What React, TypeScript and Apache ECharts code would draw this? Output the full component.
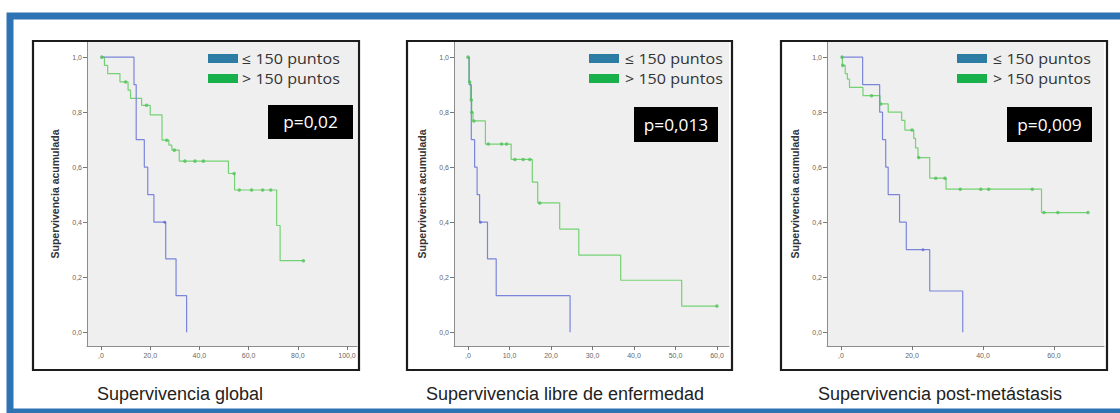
import React, { useEffect, useRef } from "react";
import * as echarts from "echarts";

// ---------- text ----------
const panelTitles = [
  "Supervivencia global",
  "Supervivencia libre de enfermedad",
  "Supervivencia post-metástasis",
];
const pValues = ["p=0,02", "p=0,013", "p=0,009"];
const legendLabels = ["≤ 150 puntos", "> 150 puntos"];
const yAxisTitle = "Supervivencia acumulada";

// ---------- tick values ----------
const yTicks = [0, 0.2, 0.4, 0.6, 0.8, 1.0];
const xTicks1 = [0, 20, 40, 60, 80, 100];
const xTicks2 = [0, 10, 20, 30, 40, 50, 60];
const xTicks3 = [0, 20, 40, 60];

// ---------- Panel 1: Supervivencia global ----------
const p1LowTime = [0, 13.4, 14.3, 17.6, 19.0, 21.5, 26.3, 30.5, 34.8];
const p1LowSurv = [1, 0.9, 0.7, 0.6, 0.5, 0.4, 0.267, 0.133, 0];
const p1LowCensTime = [25.9];
const p1LowCensSurv = [0.4];

const p1HighTime = [0, 1.4, 2.7, 7.7, 11.0, 12.0, 16.5, 20.0, 24.8, 27.6, 28.8, 31.8, 51.8, 54.3, 71.4, 72.8, 82.3];
const p1HighSurv = [1, 0.97, 0.94, 0.91, 0.88, 0.85, 0.825, 0.79, 0.698, 0.68, 0.662, 0.622, 0.577, 0.517, 0.388, 0.26, 0.26];
const p1HighCensTime = [0.3, 10.0, 18.5, 26.7, 29.8, 34.1, 38.2, 41.6, 54.1, 56.2, 61.2, 65.7, 69.0, 82.3];
const p1HighCensSurv = [1, 0.91, 0.825, 0.698, 0.662, 0.622, 0.622, 0.622, 0.577, 0.517, 0.517, 0.517, 0.517, 0.26];

// ---------- Panel 2: Supervivencia libre de enfermedad ----------
const p2LowTime = [0, 0.3, 0.8, 1.6, 2.2, 2.8, 4.7, 6.8, 24.6];
const p2LowSurv = [1, 0.9, 0.7, 0.6, 0.5, 0.4, 0.267, 0.133, 0];
const p2LowCensTime = [3.0];
const p2LowCensSurv = [0.4];

const p2HighTime = [0, 0.2, 0.6, 0.9, 1.2, 4.2, 10.4, 15.5, 16.8, 22.1, 26.7, 36.8, 51.5, 60];
const p2HighSurv = [1, 0.91, 0.844, 0.8, 0.768, 0.684, 0.628, 0.546, 0.47, 0.375, 0.28, 0.189, 0.095, 0.095];
const p2HighCensTime = [0, 0.4, 0.8, 0.9, 1.4, 4.9, 8.1, 9.3, 11.3, 13.3, 14.9, 17.3, 60];
const p2HighCensSurv = [1, 0.91, 0.844, 0.8, 0.768, 0.684, 0.684, 0.684, 0.628, 0.628, 0.628, 0.47, 0.095];

// ---------- Panel 3: Supervivencia post-metástasis ----------
const p3LowTime = [0, 6.1, 10.9, 11.7, 12.6, 13.3, 16.5, 18.4, 25.0, 34.3];
const p3LowSurv = [1, 0.9, 0.8, 0.7, 0.6, 0.5, 0.4, 0.3, 0.15, 0];
const p3LowCensTime = [23.1];
const p3LowCensSurv = [0.3];

const p3HighTime = [0, 0.4, 1.2, 1.8, 2.4, 6.2, 11.0, 13.3, 17.1, 18.0, 20.5, 21.0, 21.7, 25.0, 29.6, 56.5, 69.6];
const p3HighSurv = [1, 0.97, 0.94, 0.92, 0.89, 0.86, 0.83, 0.8, 0.77, 0.735, 0.705, 0.67, 0.635, 0.56, 0.52, 0.435, 0.435];
const p3HighCensTime = [0.3, 0.5, 8.6, 11.2, 20.0, 21.9, 26.7, 29.3, 33.6, 39.4, 41.6, 53.9, 57.2, 61.1, 69.6];
const p3HighCensSurv = [1, 0.97, 0.86, 0.83, 0.735, 0.635, 0.56, 0.56, 0.52, 0.52, 0.52, 0.52, 0.435, 0.435, 0.435];

// ---------- colours ----------
const lowLineColor = "#7b86da";
const highLineColor = "#74d274";
const lowCensColor = "#5f6cd0";
const highCensColor = "#52c25a";
const lowSwatch = "#2d7ca3";
const highSwatch = "#17b04b";

const zip = (a: number[], b: number[]) => a.map((v, i) => [v, b[i]]);

const panels = [
  {
    lowT: p1LowTime, lowS: p1LowSurv, lowCT: p1LowCensTime, lowCS: p1LowCensSurv,
    highT: p1HighTime, highS: p1HighSurv, highCT: p1HighCensTime, highCS: p1HighCensSurv,
    xTicks: xTicks1,
  },
  {
    lowT: p2LowTime, lowS: p2LowSurv, lowCT: p2LowCensTime, lowCS: p2LowCensSurv,
    highT: p2HighTime, highS: p2HighSurv, highCT: p2HighCensTime, highCS: p2HighCensSurv,
    xTicks: xTicks2,
  },
  {
    lowT: p3LowTime, lowS: p3LowSurv, lowCT: p3LowCensTime, lowCS: p3LowCensSurv,
    highT: p3HighTime, highS: p3HighSurv, highCT: p3HighCensTime, highCS: p3HighCensSurv,
    xTicks: xTicks3,
  },
];

// ---------- layout (positions only) ----------
const layout = [
  { boxL: 33, boxR: 359, gridL: 87, gridW: 270, xMin: -5.7, xMax: 104.06, leg: [208, 242], pBox: [268, 105, 85, 34], titleX: 180 },
  { boxL: 407, boxR: 732, gridL: 454, gridW: 275, xMin: -3.37, xMax: 62.9, leg: [589, 625], pBox: [634, 107, 84, 35], titleX: 565 },
  { boxL: 781, boxR: 1107, gridL: 827, gridW: 277, xMin: -3.94, xMax: 74.1, leg: [957, 993], pBox: [1007, 107, 85, 35], titleX: 940 },
];
const gridTop = 42;
const gridH = 304;
const boxTop = 41;
const boxBottom = 370;

const fmt = (v: number) => (v === 0 ? ",0" : v.toFixed(1).replace(".", ","));
const fmtY = (v: number) => v.toFixed(1).replace(".", ",");

export default function App() {
  const ref = useRef<HTMLDivElement>(null);

  useEffect(() => {
    if (!ref.current) return;
    const chart = echarts.init(ref.current, undefined, { renderer: "svg" });

    const grid = layout.map((l) => ({
      left: l.gridL,
      top: gridTop,
      width: l.gridW,
      height: gridH,
      show: true,
      backgroundColor: "#efefef",
      borderWidth: 0,
    }));

    const xAxis = layout.map((l, i) => ({
      gridIndex: i,
      type: "value",
      min: l.xMin,
      max: l.xMax,
      axisLine: { show: true, onZero: false, lineStyle: { color: "#8c8c8c", width: 1 } },
      axisTick: { show: true, customValues: panels[i].xTicks, length: 4, lineStyle: { color: "#777" } },
      axisLabel: {
        customValues: panels[i].xTicks,
        formatter: fmt,
        fontSize: 7,
        color: "#666",
        margin: 6,
        fontFamily: "Liberation Sans, Arial, sans-serif",
      },
      splitLine: { show: false },
    }));

    const yAxis = layout.map((l, i) => ({
      gridIndex: i,
      type: "value",
      min: -0.05,
      max: 1.055,
      name: yAxisTitle,
      nameLocation: "middle",
      nameRotate: 90,
      nameGap: 27,
      nameTextStyle: {
        fontSize: 10.5,
        fontWeight: "bold",
        color: "#333",
        fontFamily: "Liberation Sans, Arial, sans-serif",
      },
      axisLine: { show: true, onZero: false, lineStyle: { color: "#8c8c8c", width: 1 } },
      axisTick: { show: true, customValues: yTicks, length: 4, lineStyle: { color: "#777" } },
      axisLabel: {
        customValues: yTicks,
        formatter: fmtY,
        fontSize: 7,
        color: "#666",
        margin: 5,
        fontFamily: "Liberation Sans, Arial, sans-serif",
      },
      splitLine: { show: false },
    }));

    const series: any[] = [];
    panels.forEach((p, i) => {
      series.push({
        type: "line",
        xAxisIndex: i,
        yAxisIndex: i,
        step: "end",
        showSymbol: false,
        silent: true,
        data: zip(p.lowT, p.lowS),
        lineStyle: { color: lowLineColor, width: 1.2 },
        z: 3,
      });
      series.push({
        type: "line",
        xAxisIndex: i,
        yAxisIndex: i,
        step: "end",
        showSymbol: false,
        silent: true,
        data: zip(p.highT, p.highS),
        lineStyle: { color: highLineColor, width: 1.2 },
        z: 2,
      });
      series.push({
        type: "scatter",
        xAxisIndex: i,
        yAxisIndex: i,
        symbol: "circle",
        symbolSize: 3,
        silent: true,
        data: zip(p.lowCT, p.lowCS),
        itemStyle: { color: lowCensColor },
        z: 4,
      });
      series.push({
        type: "scatter",
        xAxisIndex: i,
        yAxisIndex: i,
        symbol: "circle",
        symbolSize: 3.5,
        silent: true,
        data: zip(p.highCT, p.highCS),
        itemStyle: { color: highCensColor },
        z: 4,
      });
    });

    const graphic: any[] = [
      {
        type: "rect",
        shape: { x: 10, y: 16, width: 1300, height: 396 },
        style: { fill: "none", stroke: "#2e74b5", lineWidth: 7 },
        z: 100,
        silent: true,
      },
    ];
    layout.forEach((l, i) => {
      graphic.push({
        type: "rect",
        shape: { x: l.boxL, y: boxTop, width: l.boxR - l.boxL, height: boxBottom - boxTop },
        style: { fill: "none", stroke: "#1c1c1c", lineWidth: 2.2 },
        z: 100,
        silent: true,
      });
      [lowSwatch, highSwatch].forEach((c, k) => {
        graphic.push({
          type: "rect",
          shape: { x: l.leg[0], y: 54 + k * 20, width: 30, height: 9 },
          style: { fill: c },
          z: 100,
          silent: true,
        });
        graphic.push({
          type: "text",
          x: l.leg[1],
          y: 58.5 + k * 20,
          scaleX: 1.15,
          style: {
            text: legendLabels[k],
            fill: "#333",
            fontSize: 14,
            fontFamily: "Open Sans, Noto Sans, sans-serif",
            verticalAlign: "middle",
            align: "left",
          },
          z: 100,
          silent: true,
        });
      });
      const [bx, by, bw, bh] = l.pBox;
      graphic.push({
        type: "rect",
        shape: { x: bx, y: by, width: bw, height: bh },
        style: { fill: "#000" },
        z: 100,
        silent: true,
      });
      graphic.push({
        type: "text",
        x: bx + bw / 2,
        y: by + bh / 2,
        scaleX: 1.08,
        style: {
          text: pValues[i],
          fill: "#fff",
          fontSize: 16,
          fontFamily: "Open Sans, Noto Sans, sans-serif",
          align: "center",
          verticalAlign: "middle",
        },
        z: 101,
        silent: true,
      });
      graphic.push({
        type: "text",
        x: l.titleX,
        y: 394,
        style: {
          text: panelTitles[i],
          fill: "#222",
          fontSize: 18,
          fontFamily: "Liberation Sans, Arial, sans-serif",
          align: "center",
          verticalAlign: "middle",
        },
        z: 100,
        silent: true,
      });
    });

    chart.setOption({
      animation: false,
      backgroundColor: "#ffffff",
      grid,
      xAxis,
      yAxis,
      series,
      graphic,
    });

    return () => chart.dispose();
  }, []);

  return (
    <div
      ref={ref}
      style={{ position: "fixed", left: 0, top: 0, width: 1120, height: 413, background: "#fff" }}
    />
  );
}
